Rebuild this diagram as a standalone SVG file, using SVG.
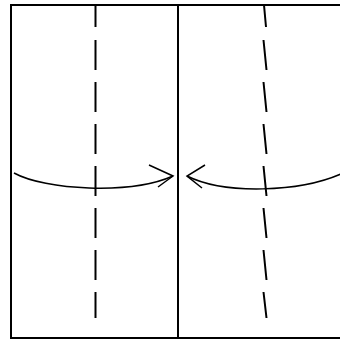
<svg xmlns="http://www.w3.org/2000/svg" width="340" height="343" viewBox="0 0 340 343">
  <style>
    .solid { fill: none; stroke: #000; stroke-width: 2; }
    .dash { fill: none; stroke: #000; stroke-width: 2; }
    .curve { fill: none; stroke: #000; stroke-width: 1.5; }
  </style>
  <rect width="340" height="343" fill="#fff"/>
  <g id="frame">
    <path class="solid" d="M342,5 H11 V338 H342"/>
    <path class="solid" d="M178,5 V338"/>
  </g>
  <g id="fold-left">
    <path class="dash" d="M95.5,5 V27 M95.5,40 V70 M95.5,82 V112 M95.5,124 V154 M95.5,166 V196 M95.5,208 V238 M95.5,250 V280 M95.5,292 V318"/>
  </g>
  <g id="fold-right">
    <path class="dash" d="M264,5 L266,27 M263.5,40 L266.5,70 M263.5,82 L266.5,112 M263.5,124 L266.5,154 M263.5,166 L266.5,196 M263.5,208 L266.5,238 M263.5,250 L266.5,280 M263.5,292 L266.5,318"/>
  </g>
  <g id="connectors">
    <path class="curve" d="M14,173 C45,190 130,195 173,176"/>
    <path class="curve" d="M149,165 L173,176 L158,187"/>
    <path class="curve" d="M187,176 C225,195 300,192 341,174"/>
    <path class="curve" d="M205,165 L187,176 L202,188"/>
  </g>
</svg>
